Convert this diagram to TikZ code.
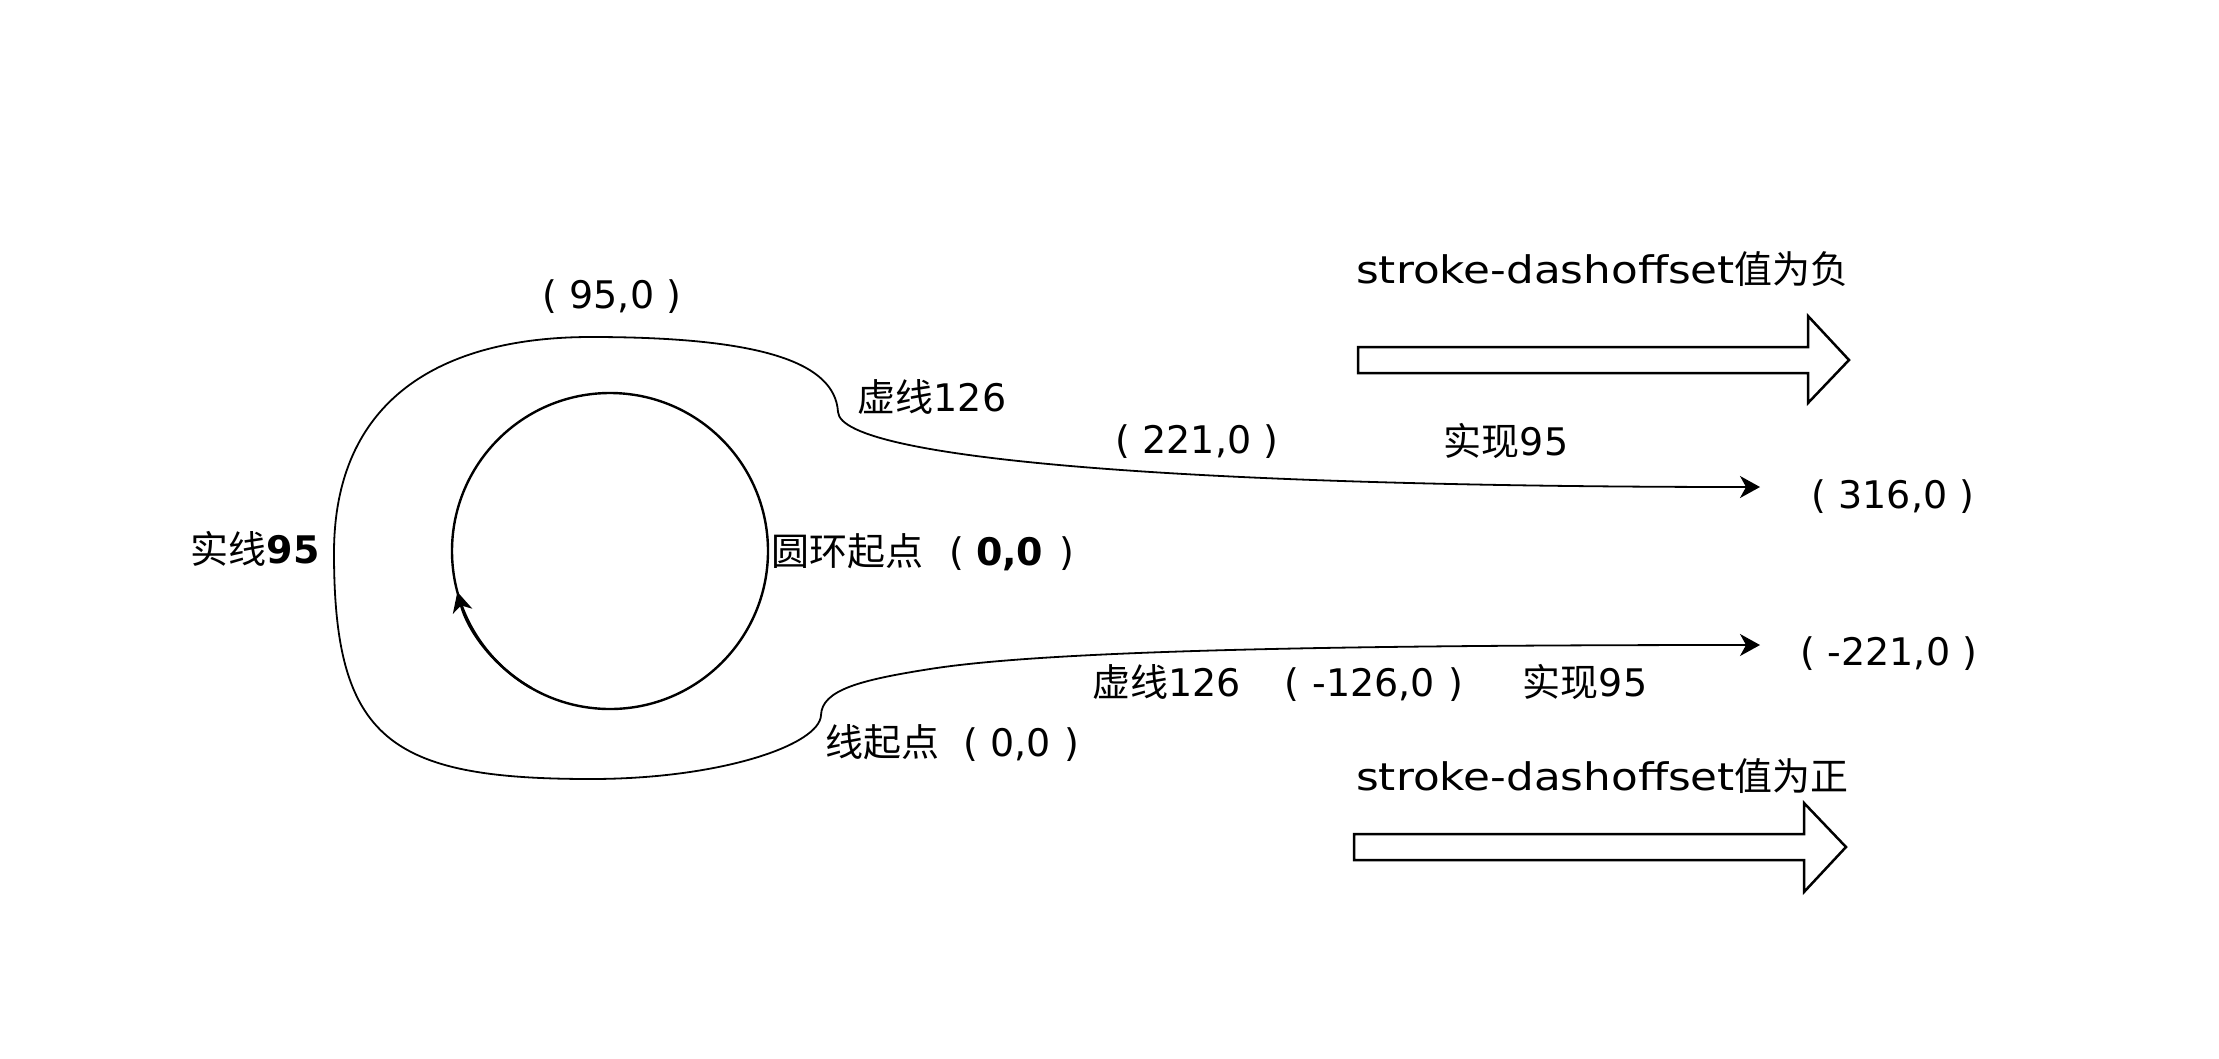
\documentclass[tikz,border=0pt]{standalone}
\usepackage{fontspec}
\setmainfont{DejaVu Sans}
\newfontfamily\cjk{Noto Sans CJK SC}
\usetikzlibrary{arrows.meta,calc}
\newcommand{\zh}[1]{{\cjk #1}}
\newcommand{\wide}[1]{\scalebox{1.15}[1]{#1}}
\begin{document}
\begin{tikzpicture}[x=1pt,y=-1pt,
  lbl/.style={inner sep=0pt, font=\fontsize{38}{46}\selectfont},
  loopline/.style={line width=1.8pt},
  ringline/.style={line width=2.4pt},
  blockarrow/.style={draw, line width=2.5pt, fill=white, line join=miter}]
\fill[white] (0,0) rectangle (2219,1058);
\useasboundingbox (0,0) rectangle (2219,1058);

% ring
\coordinate (c) at (610,551);
\draw[ringline] (c) circle[radius=158pt];
\draw[ringline, -{Stealth[length=20pt,width=20pt,inset=6pt]}] ($(c)+(240:158pt)$) arc[start angle=240, end angle=195, radius=158pt];

% outer line
\coordinate (bt) at (1760,645);
\coordinate (tt) at (1760,487);
\draw[loopline, {Stealth[length=20pt,width=22pt,inset=6pt]}-{Stealth[length=20pt,width=22pt,inset=6pt]}]
  (bt) .. controls (1350,645) and (1050,650) .. (930,669)
  .. controls (860,680) and (822,690) .. (821,715)
  .. controls (820,745) and (720,779) .. (591,779)
  .. controls (390,779) and (334,740) .. (334,553)
  .. controls (334,400) and (440,337) .. (591,337)
  .. controls (760,337) and (835,362) .. (838,412)
  .. controls (841,460) and (1200,487) .. (tt);

% block arrows
\draw[blockarrow] (1358,347) -- (1808,347) -- (1808,316) -- (1849,360) -- (1808,403) -- (1808,373) -- (1358,373) -- cycle;
\draw[blockarrow] (1354,834) -- (1804,834) -- (1804,803) -- (1846,847) -- (1804,892) -- (1804,860) -- (1354,860) -- cycle;

% labels
\node[lbl] (p95) at (612,297) {( 95,0 )};
\node[lbl] (dash1) at (932,397) {\zh{虚线}126};
\node[lbl] (p221) at (1197,442) {( 221,0 )};
\node[lbl] (solid1) at (1506,441) {\zh{实现}95};
\node[lbl] (p316) at (1893,497) {( 316,0 )};
\node[lbl] (solid0) at (255,549) {\zh{实线}\textbf{95}};
\node[lbl, anchor=west] (ringstart) at (771,552) {\zh{圆环起点}\hspace{26pt}(\hspace{12pt}\textbf{0,0}\hspace{16pt})};
\node[lbl] (pm221) at (1889,654) {( -221,0 )};
\node[lbl, anchor=west] (bottomlbl) at (1092,683) {\zh{虚线}126\hspace{44pt}(\hspace{13pt}-126,0\hspace{13pt})\hspace{60pt}\zh{实现}95};
\node[lbl, anchor=west] (linestart) at (825,743) {\zh{线起点}\hspace{24pt}(\hspace{12pt}0,0\hspace{14pt})};
\node[lbl, anchor=base west] (negtxt) at (1356,283) {\wide{stroke-dashoffset}\zh{值为负}};
\node[lbl, anchor=base west] (postxt) at (1356,790) {\wide{stroke-dashoffset}\zh{值为正}};
\end{tikzpicture}
\end{document}
